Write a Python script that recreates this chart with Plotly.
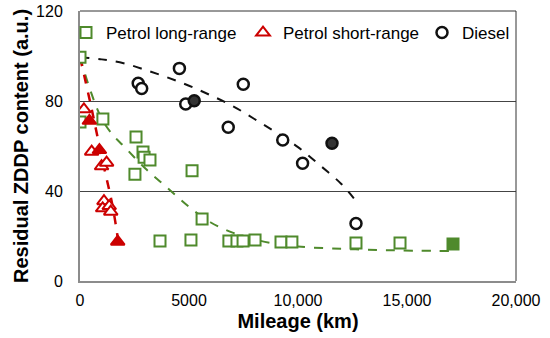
import plotly.graph_objects as go

# ---- data ----
long_x = [0, 0, 1050, 2570, 2520, 2890, 2940, 3210, 5140, 5600, 3670, 5090,
          6830, 7200, 7480, 8030, 9220, 9720, 12660, 14680, 17110]
long_y = [99.5, 70.7, 72, 64, 47.5, 57.3, 55, 53.8, 49, 27.6, 17.8, 18.2,
          17.8, 17.8, 17.8, 18.2, 17.3, 17.3, 16.9, 16.9, 16.4]
short_x = [180, 430, 535, 890, 990, 1220, 1100, 1040, 1340, 1410, 1730]
short_y = [76.3, 71.2, 57.5, 58.2, 51, 52.6, 35.5, 32.3, 33.3, 30.8, 17.5]
diesel_x = [2670, 2830, 4560, 4850, 5240, 6800, 7490, 9300, 10210, 11560, 12660]
diesel_y = [87.9, 85.6, 94.5, 78.7, 80.1, 68.3, 87.4, 62.7, 52.3, 61.2, 25.6]

# trend lines
long_fit_x = [0, 500, 1000, 1500, 2000, 3000, 4000, 5000, 6000, 7000, 8000,
              9000, 10000, 12000, 14000, 17000]
long_fit_y = [99.5, 84, 72, 65, 60, 50, 41.5, 33, 26, 21.5, 18.5,
              16.5, 15.3, 14.3, 13.7, 13.3]
short_fit_x = [0, 500, 1000, 1500, 1750]
short_fit_y = [99.5, 78, 55, 33, 18]
diesel_fit_x = [0, 1000, 2000, 3000, 4000, 5000, 6000, 7000, 8000, 9000,
                10000, 11000, 12000, 12750]
diesel_fit_y = [99.5, 98.5, 96.8, 93.8, 90.5, 86.8, 82.5, 77.8, 72.0, 66,
                59.5, 51.5, 43, 34.5]

x_ticks = [0, 5000, 10000, 15000, 20000]
x_tick_labels = ["0", "5000", "10,000", "15,000", "20,000"]
y_ticks = [0, 40, 80, 120]

# ---- styling ----
GREEN = "#4f8a2c"
RED = "#cc0000"
BLACK = "#111111"
long_filled = {20}
short_filled = {1, 3, 10}
diesel_filled = {4, 9}

def fills(n, filled, color):
    return [color if i in filled else "white" for i in range(n)]

FONT = "Liberation Sans, Arial, sans-serif"
fig = go.Figure()

fig.add_trace(go.Scatter(x=long_fit_x, y=long_fit_y, mode="lines",
                         line=dict(color=GREEN, width=2, dash="dash", shape="spline"),
                         showlegend=False, hoverinfo="skip"))
fig.add_trace(go.Scatter(x=short_fit_x, y=short_fit_y, mode="lines",
                         line=dict(color=RED, width=2.5, dash="dash", shape="spline"),
                         showlegend=False, hoverinfo="skip"))
fig.add_trace(go.Scatter(x=diesel_fit_x, y=diesel_fit_y, mode="lines",
                         line=dict(color=BLACK, width=2, dash="dash", shape="spline"),
                         showlegend=False, hoverinfo="skip"))

fig.add_trace(go.Scatter(x=long_x, y=long_y, mode="markers", name="Petrol long-range",
                         legend="legend",
                         marker=dict(symbol="square", size=11,
                                     color=fills(len(long_x), long_filled, GREEN),
                                     line=dict(color=GREEN, width=2))))
fig.add_trace(go.Scatter(x=short_x, y=short_y, mode="markers", name="Petrol short-range",
                         legend="legend2",
                         marker=dict(symbol="triangle-up", size=12,
                                     color=fills(len(short_x), short_filled, RED),
                                     line=dict(color=RED, width=2))))
fig.add_trace(go.Scatter(x=diesel_x, y=diesel_y, mode="markers", name="Diesel",
                         legend="legend3",
                         marker=dict(symbol="circle", size=11,
                                     color=fills(len(diesel_x), diesel_filled, "#333333"),
                                     line=dict(color=BLACK, width=2.5))))

PLOT_L, PLOT_T, PLOT_W, PLOT_H = 80, 11, 436, 270
FIG_W, FIG_H = 550, 338

def legend_at(text_left_px):
    return dict(x=(text_left_px - 40 - PLOT_L) / PLOT_W,
                y=(PLOT_H + PLOT_T - 33) / PLOT_H,
                xanchor="left", yanchor="middle", orientation="h",
                bgcolor="rgba(0,0,0,0)", borderwidth=0,
                font=dict(size=17, family=FONT, color="black"))

fig.update_layout(
    width=FIG_W, height=FIG_H,
    margin=dict(l=PLOT_L, r=FIG_W - PLOT_L - PLOT_W, t=PLOT_T,
                b=FIG_H - PLOT_T - PLOT_H, autoexpand=False),
    paper_bgcolor="white", plot_bgcolor="white",
    font=dict(family=FONT, size=16, color="black"),
    showlegend=True,
    legend=legend_at(106),
    legend2=legend_at(283),
    legend3=legend_at(462),
    xaxis=dict(range=[0, 20000], tickvals=x_ticks, ticktext=x_tick_labels,
               showgrid=False, zeroline=False, showline=True, linecolor="#8c8c8c",
               linewidth=2, ticks="", automargin=False, ticklabelstandoff=4,
               title=dict(text="<b>Mileage (km)</b>", font=dict(size=20), standoff=6),
               tickfont=dict(size=16)),
    yaxis=dict(range=[0, 120], tickvals=y_ticks, showgrid=True, gridcolor="#444444",
               gridwidth=1, zeroline=False, showline=True, linecolor="#8c8c8c",
               linewidth=2, ticks="", automargin=False, ticklabelstandoff=12,
               title=dict(text="<b>Residual ZDDP content (a.u.)</b>", font=dict(size=20),
                          standoff=2),
               tickfont=dict(size=16)),
    shapes=[
        dict(type="line", xref="paper", yref="paper", x0=0, x1=1, y0=1, y1=1,
             line=dict(color="#333333", width=1)),
        dict(type="line", xref="paper", yref="paper", x0=1, x1=1, y0=0, y1=1,
             line=dict(color="#333333", width=1)),
    ],
)

# remove the browser's default 8px body margin so the figure fills the window
fig.write_html("out.html", config={"displayModeBar": False},
               post_script="document.body.style.margin='0';document.body.style.overflow='hidden';")
